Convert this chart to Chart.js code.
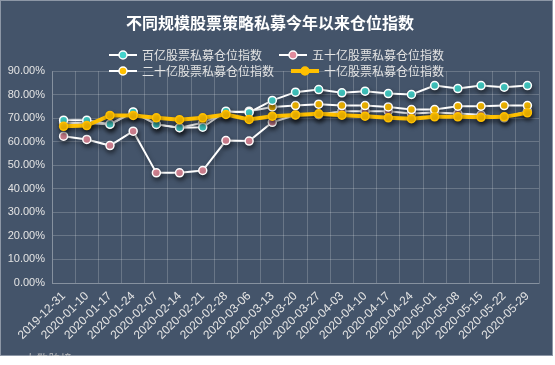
<!DOCTYPE html>
<html lang="zh-CN">

<head>
    <meta charset="UTF-8">
    <title>不同规模股票策略私募今年以来仓位指数</title>
    <script src="https://cdn.jsdelivr.net/npm/chart.js"></script>
    <style>
        body {
            margin: 0;
            padding: 0;
            background: #fff;
            font-family: 'Noto Sans CJK SC', 'Noto Sans', sans-serif;
        }

        .chart-box {
            position: relative;
            width: 551px;
            height: 354px;
            background: #44546a;
            border: 1px solid #8d97a6;
        }

        .watermark {
            position: absolute;
            left: 8px;
            top: 349px;
            font-size: 11px;
            color: rgba(200, 200, 200, 0.9);
            letter-spacing: 1px;
        }
    </style>
</head>

<body>
    <div class="chart-box">
        <canvas id="chart" width="551" height="354"></canvas>
        <span class="watermark">☺ 大数跨境</span>
    </div>

    <script>
        const dates = ['2019-12-31', '2020-01-10', '2020-01-17', '2020-01-24', '2020-02-07', '2020-02-14',
            '2020-02-21', '2020-02-28', '2020-03-06', '2020-03-13', '2020-03-20', '2020-03-27',
            '2020-04-03', '2020-04-10', '2020-04-17', '2020-04-24', '2020-05-01', '2020-05-08',
            '2020-05-15', '2020-05-22', '2020-05-29'];

        // 仓位指数 (%)
        const bai = [69.2, 69.2, 67.5, 72.7, 67.4, 66.0, 66.2, 73.0, 72.5, 77.6, 81.1, 82.2,
            80.8, 81.5, 80.5, 80.1, 83.9, 82.6, 83.9, 83.2, 83.9];
        const wushi = [62.4, 61.0, 58.4, 64.5, 46.8, 46.8, 47.8, 60.5, 60.3, 68.3, 71.4, 71.5,
            73.0, 73.0, 73.0, 72.0, 72.5, 72.0, 71.5, 70.2, 73.0];
        const ershi = [68.0, 68.0, 67.4, 72.5, 67.4, 66.0, 68.1, 72.5, 73.0, 74.8, 75.4, 76.0,
            75.4, 75.4, 74.8, 73.7, 73.7, 75.1, 75.1, 75.4, 75.4];
        const shi = [66.6, 66.9, 71.2, 71.2, 70.2, 69.4, 70.2, 71.6, 69.5, 70.9, 71.4, 71.9,
            71.3, 70.9, 70.2, 69.8, 70.6, 70.6, 70.4, 70.6, 72.3];

        const yTicks = [0, 10, 20, 30, 40, 50, 60, 70, 80, 90];

        const seriesNames = ['百亿股票私募仓位指数', '五十亿股票私募仓位指数', '二十亿股票私募仓位指数', '十亿股票私募仓位指数'];

        const cyan = '#45d3cc';
        const pink = '#e08b9c';
        const gold = '#ffc000';
        const textColor = '#e4e4e4';
        const gridColor = 'rgba(255,255,255,0.2)';

        // 线条阴影
        const shadowPlugin = {
            id: 'shadow',
            beforeDatasetsDraw(chart) {
                const ctx = chart.ctx;
                ctx.save();
                ctx.shadowColor = 'rgba(0,0,0,0.45)';
                ctx.shadowBlur = 5;
                ctx.shadowOffsetX = 1;
                ctx.shadowOffsetY = 3;
            },
            afterDatasetsDraw(chart) {
                chart.ctx.restore();
            }
        };

        // 图例: 两行, 线 + 圆点
        const legendPlugin = {
            id: 'twoRowLegend',
            afterDraw(chart) {
                const ctx = chart.ctx;
                const rows = [[0, 1], [2, 3]];
                const rowY = [54, 70];
                const boxW = 28, gap = 5, itemGap = 17;
                ctx.save();
                ctx.font = '12px "Noto Sans CJK SC"';
                ctx.textBaseline = 'middle';
                rows.forEach((row, r) => {
                    const widths = row.map(i => boxW + gap + ctx.measureText(seriesNames[i]).width);
                    const total = widths.reduce((a, b) => a + b, 0) + itemGap * (row.length - 1);
                    let x = chart.width / 2 - total / 2;
                    const y = rowY[r];
                    row.forEach((i, k) => {
                        const ds = chart.data.datasets[i];
                        ctx.strokeStyle = ds.borderColor;
                        ctx.lineWidth = ds.borderWidth;
                        ctx.beginPath();
                        ctx.moveTo(x, y);
                        ctx.lineTo(x + boxW, y);
                        ctx.stroke();
                        ctx.fillStyle = ds.pointBackgroundColor;
                        ctx.strokeStyle = ds.pointBorderColor;
                        ctx.lineWidth = ds.pointBorderWidth;
                        ctx.beginPath();
                        ctx.arc(x + boxW / 2, y, 4, 0, Math.PI * 2);
                        ctx.fill();
                        ctx.stroke();
                        ctx.fillStyle = textColor;
                        ctx.fillText(seriesNames[i], x + boxW + gap, y);
                        x += widths[k] + itemGap;
                    });
                });
                ctx.restore();
            }
        };

        const ctx = document.getElementById('chart').getContext('2d');
        new Chart(ctx, {
            type: 'line',
            data: {
                labels: dates,
                datasets: [
                    {
                        label: seriesNames[0],
                        data: bai,
                        borderColor: '#ffffff',
                        borderWidth: 2,
                        pointBackgroundColor: cyan,
                        pointBorderColor: '#ffffff',
                        pointBorderWidth: 1.5,
                        pointRadius: 4,
                        order: 1
                    },
                    {
                        label: seriesNames[1],
                        data: wushi,
                        borderColor: '#ffffff',
                        borderWidth: 2,
                        pointBackgroundColor: pink,
                        pointBorderColor: '#ffffff',
                        pointBorderWidth: 1.5,
                        pointRadius: 4,
                        order: 3
                    },
                    {
                        label: seriesNames[2],
                        data: ershi,
                        borderColor: '#ffffff',
                        borderWidth: 2,
                        pointBackgroundColor: gold,
                        pointBorderColor: '#ffffff',
                        pointBorderWidth: 1.5,
                        pointRadius: 4,
                        order: 2
                    },
                    {
                        label: seriesNames[3],
                        data: shi,
                        borderColor: gold,
                        borderWidth: 4,
                        pointBackgroundColor: gold,
                        pointBorderColor: gold,
                        pointBorderWidth: 1.5,
                        pointRadius: 4,
                        order: 0
                    }
                ]
            },
            options: {
                responsive: false,
                animation: false,
                layout: {
                    padding: { top: 0, right: 13, bottom: 0, left: 0 }
                },
                plugins: {
                    legend: { display: false },
                    tooltip: { enabled: false },
                    title: {
                        display: true,
                        text: '不同规模股票策略私募今年以来仓位指数',
                        color: '#ffffff',
                        font: { family: '"Noto Sans CJK SC"', size: 16, weight: 'bold', lineHeight: 1.2 },
                        padding: { top: 12, bottom: 39 }
                    }
                },
                scales: {
                    x: {
                        offset: true,
                        grid: { color: gridColor, offset: true, drawTicks: false },
                        border: { color: gridColor },
                        ticks: {
                            color: textColor,
                            font: { family: '"Liberation Sans"', size: 12 },
                            minRotation: 45,
                            maxRotation: 45,
                            autoSkip: false,
                            padding: 6
                        },
                        afterFit(scale) { scale.height = 72; }
                    },
                    y: {
                        min: 0,
                        max: 90,
                        afterBuildTicks(scale) {
                            scale.ticks = yTicks.map(v => ({ value: v }));
                        },
                        grid: { color: gridColor, drawTicks: false },
                        border: { color: gridColor },
                        ticks: {
                            color: textColor,
                            font: { family: '"Liberation Sans"', size: 11 },
                            padding: 7,
                            callback: v => v.toFixed(2) + '%'
                        },
                        afterFit(scale) { scale.width = 51; }
                    }
                }
            },
            plugins: [shadowPlugin, legendPlugin]
        });
    </script>
</body>

</html>
